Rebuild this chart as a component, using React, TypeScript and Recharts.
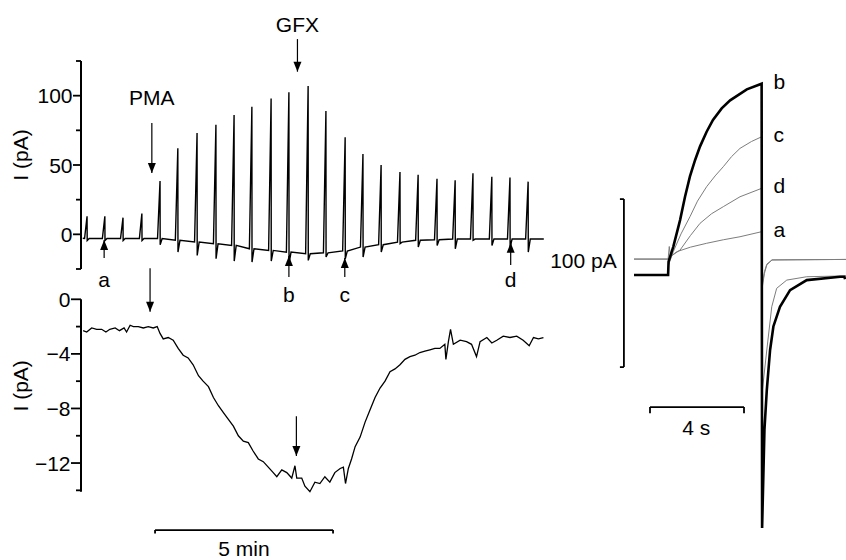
import React from "react";
import { LineChart, Line, XAxis, YAxis, ReferenceLine, ReferenceDot } from "recharts";

const FONT = '"Liberation Sans", Arial, Helvetica, sans-serif';
const W = 846;
const H = 560;

// top-left: responses to each test pulse (t in min, I in pA)
const spikeTimes = [0.17, 0.67, 1.18, 1.71, 2.22, 2.72, 3.26, 3.79, 4.3, 4.8, 5.34, 5.84, 6.38, 6.88, 7.42, 7.92, 8.43, 8.96, 9.47, 10.0, 10.51, 11.01, 11.54, 12.05, 12.56];
const spikePeaks = [13, 13, 12, 15, 38.5, 62, 73, 79, 86, 92, 98, 102.5, 107, 89, 70, 58, 50, 45, 43, 40, 39, 44, 41.5, 41, 38];
const spikeBase = [-3, -3, -3, -3, -3, -4.3, -5.5, -6.8, -8, -10.4, -11.6, -12.8, -14, -13.3, -12, -9.2, -7.5, -5.6, -4.3, -3.9, -3.4, -3.4, -3.4, -3.4, -3.4];
const spikeTrough = [-4.5, -4.5, -4.5, -4.5, -7.5, -12.8, -15.2, -17.6, -19.3, -20, -19.3, -21.2, -18.8, -16.4, -17.6, -16.4, -12.8, -6.7, -9.2, -8, -10.4, -4.3, -8, -9.2, -12.8];

// bottom-left: holding current (t in min, I in pA)
const holdTimes = [0.06, 0.16, 0.3, 0.44, 0.58, 0.7, 0.81, 0.96, 1.08, 1.21, 1.28, 1.38, 1.47, 1.61, 1.75, 1.89, 2.03, 2.14, 2.22, 2.31, 2.45, 2.59, 2.73, 2.87, 3.01, 3.15, 3.3, 3.43, 3.58, 3.72, 3.86, 4.0, 4.14, 4.28, 4.42, 4.56, 4.7, 4.83, 4.98, 5.12, 5.26, 5.4, 5.5, 5.64, 5.78, 5.92, 6.01, 6.06, 6.2, 6.29, 6.43, 6.57, 6.71, 6.85, 6.99, 7.13, 7.28, 7.37, 7.43, 7.51, 7.6, 7.7, 7.84, 7.98, 8.12, 8.26, 8.4, 8.54, 8.68, 8.82, 8.96, 9.1, 9.24, 9.38, 9.52, 9.66, 9.8, 9.94, 10.08, 10.22, 10.25, 10.32, 10.38, 10.46, 10.65, 10.83, 10.97, 11.11, 11.21, 11.4, 11.54, 11.68, 11.86, 12.05, 12.24, 12.42, 12.59, 12.71, 12.85, 12.99];
const holdCurrent = [-2.3, -2.4, -2.1, -2.2, -2.2, -2.4, -2.2, -2.1, -2.3, -2.1, -2.4, -1.9, -2.0, -2.0, -2.1, -2.0, -2.1, -2.0, -2.5, -2.9, -2.8, -3.0, -3.6, -4.1, -4.3, -4.8, -5.6, -6.0, -6.4, -7.2, -7.8, -8.3, -8.8, -9.3, -10.0, -10.4, -10.5, -11.1, -11.7, -11.9, -12.3, -12.7, -13.0, -12.5, -12.7, -13.1, -12.2, -13.1, -13.1, -13.7, -14.1, -13.4, -13.5, -13.0, -13.4, -12.7, -12.4, -12.3, -13.5, -12.4, -11.7, -10.8, -10.1, -9.0, -8.1, -7.2, -6.5, -6.0, -5.3, -5.1, -4.8, -4.4, -4.2, -4.1, -3.9, -3.8, -3.7, -3.6, -3.6, -3.3, -4.4, -3.1, -2.2, -3.3, -3.0, -3.1, -3.3, -4.2, -3.1, -2.8, -3.2, -3.0, -2.7, -2.8, -2.7, -3.0, -3.4, -2.8, -2.9, -2.8];

// right: single sweeps a-d (t in s, I in pA)
const bTimes = [0, 1.45, 1.47, 1.67, 1.96, 2.17, 2.38, 2.6, 2.81, 3.09, 3.36, 3.73, 4.09, 4.8, 5.43, 5.45, 5.55, 5.65, 5.79, 5.93, 6.21, 6.64, 7.35, 8.77, 8.95, 8.98];
const bCurrent = [0, 0, 8, 16.8, 32.7, 46.6, 58.7, 68.5, 76.6, 85.3, 92.3, 99.2, 104, 110.5, 113.9, -150.6, -92, -68.5, -44.6, -30.6, -18.9, -9, -3, -1, -1, -2.5];
const cTimes = [0, 1.45, 1.47, 1.67, 2.0, 2.38, 2.7, 3.09, 3.45, 3.8, 4.15, 4.51, 5.0, 5.43, 5.45, 5.65, 5.86, 6.07, 6.5, 7.35, 9.02];
const cCurrent = [0, 0, 6, 13.9, 24.5, 34.7, 44, 52.6, 59, 64.5, 70.5, 75.4, 79.5, 82.3, -70, -44.6, -18.9, -7.9, -3, -1, -0.5];
const dTimes = [0, 1.45, 1.55, 1.96, 2.4, 2.81, 3.3, 3.8, 4.51, 5.43, 5.45, 5.55, 5.65, 5.87, 9.02];
const dCurrent = [9.5, 9.5, 11, 14.9, 23.5, 30.8, 36.5, 40.7, 46.6, 51.6, -8, 1, 6, 9, 9.3];
const aTimes = [0, 1.45, 1.5, 1.55, 1.82, 2.4, 3.09, 3.8, 4.51, 5.43, 5.45, 5.55, 5.65, 5.87, 9.02];
const aCurrent = [9.5, 9.5, 17, 11, 13.9, 16.6, 18.9, 21, 22.8, 25.8, -6, 2, 6.5, 9, 9.3];

const zip = (ts: number[], is: number[]) => ts.map((t, k) => ({ t, i: is[k] }));

const topTrace: { t: number; i: number }[] = [{ t: 0.05, i: -2.8 }];
spikeTimes.forEach((t, k) => {
  topTrace.push({ t: t - 0.07, i: spikeBase[k] });
  topTrace.push({ t, i: spikePeaks[k] });
  topTrace.push({ t: t + 0.004, i: spikeTrough[k] });
  topTrace.push({ t: t + 0.06, i: spikeBase[k] });
});
topTrace.push({ t: 13.0, i: -3.4 });

const holdTrace = zip(holdTimes, holdCurrent);
const bTrace = zip(bTimes, bCurrent);
const cTrace = zip(cTimes, cCurrent);
const dTrace = zip(dTimes, dCurrent);
const aTrace = zip(aTimes, aCurrent);

const minus = (v: number) => (v < 0 ? "\u2212" + Math.abs(v) : String(v));

const makeTick = (majors: number[], major: number) => (props: any) => {
  const { x, y, payload } = props;
  const isMajor = majors.includes(payload.value);
  const len = isMajor ? major : 5;
  return (
    <g>
      <line x1={x - len} x2={x} y1={y} y2={y} stroke="#000" strokeWidth={1.8} />
      {isMajor && (
        <text x={x - len - 0.5} y={y} dy={7.5} textAnchor="end" fontSize={21} fontFamily={FONT} fill="#000">
          {minus(payload.value)}
        </text>
      )}
    </g>
  );
};

const txt = (label: string, anchor = "middle", rotate = false) => (p: any) => (
  <text
    x={p.cx}
    y={p.cy}
    textAnchor={anchor}
    fontSize={21}
    fontFamily={FONT}
    fill="#000"
    transform={rotate ? `rotate(-90 ${p.cx} ${p.cy})` : undefined}
  >
    {label}
  </text>
);

const headDown = (p: any) => (
  <polygon points={`${p.cx - 4},${p.cy - 10} ${p.cx + 4},${p.cy - 10} ${p.cx},${p.cy}`} fill="#000" />
);
const headUp = (p: any) => (
  <polygon points={`${p.cx - 4},${p.cy + 10} ${p.cx + 4},${p.cy + 10} ${p.cx},${p.cy}`} fill="#000" />
);

// arrow from (x, from) to tip (x, to)
const arrow = (key: string, x: number, from: number, to: number) => {
  const down = to < from;
  return [
    <ReferenceLine
      key={key + "s"}
      segment={[{ x, y: from }, { x, y: to }]}
      stroke="#000"
      strokeWidth={1.2}
      ifOverflow="visible"
    />,
    <ReferenceDot key={key + "h"} x={x} y={to} r={0} shape={down ? headDown : headUp} ifOverflow="visible" />,
  ];
};

const note = (key: string, x: number, y: number, label: string, anchor = "middle", rotate = false) => (
  <ReferenceDot key={key} x={x} y={y} r={0} shape={txt(label, anchor, rotate)} ifOverflow="visible" />
);

// scale bar drawn as consecutive two-point segments
const bar = (key: string, pts: [number, number][], w = 1.8) =>
  pts.slice(1).map((p, k) => (
    <ReferenceLine
      key={key + k}
      segment={[
        { x: pts[k][0], y: pts[k][1] },
        { x: p[0], y: p[1] },
      ]}
      stroke="#000"
      strokeWidth={w}
      ifOverflow="visible"
    />
  ));

const layer: React.CSSProperties = { position: "absolute", left: 0, top: 0 };

export default function App() {
  return (
    <div style={{ position: "absolute", left: 0, top: 0, width: W, height: H, background: "#fff", fontFamily: FONT }}>
      <div style={layer}>
        <LineChart width={W} height={H} margin={{ top: 61, bottom: 291, left: 41, right: 284.4 }}>
          <XAxis type="number" dataKey="t" domain={[0, 13.5]} allowDataOverflow hide />
          <YAxis
            type="number"
            domain={[-25, 125]}
            ticks={[-25, 0, 25, 50, 75, 100, 125]}
            interval={0}
            width={40}
            tickSize={0}
            tickMargin={0}
            tickLine={false}
            axisLine={{ stroke: "#000", strokeWidth: 2 }}
            tick={makeTick([0, 50, 100], 8)}
          />
          <Line data={topTrace} dataKey="i" stroke="#000" strokeWidth={1.4} dot={false} isAnimationActive={false} />
          {note("yl", -1.475, 57.2, "I (pA)", "middle", true)}
          {note("pma", 1.99, 93.2, "PMA")}
          {arrow("pma", 1.99, 80.3, 44.2)}
          {note("gfx", 6.08, 146.1, "GFX")}
          {arrow("gfx", 6.08, 140.8, 117.3)}
          {arrow("a", 0.65, -17.1, -4.1)}
          {arrow("b", 5.84, -30.8, -15.6)}
          {arrow("c", 7.41, -30.8, -17.1)}
          {arrow("d", 12.07, -22.1, -6.1)}
          {note("la", 0.65, -38, "a")}
          {note("lb", 5.84, -48.8, "b")}
          {note("lc", 7.41, -48.8, "c")}
          {note("ld", 12.07, -38, "d")}
        </LineChart>
      </div>

      <div style={layer}>
        <LineChart width={W} height={H} margin={{ top: 299.3, bottom: 68.3, left: 41, right: 284.4 }}>
          <XAxis type="number" dataKey="t" domain={[0, 13.5]} allowDataOverflow hide />
          <YAxis
            type="number"
            domain={[-14, 0]}
            ticks={[-14, -12, -10, -8, -6, -4, -2, 0]}
            interval={0}
            width={40}
            tickSize={0}
            tickMargin={0}
            tickLine={false}
            axisLine={{ stroke: "#000", strokeWidth: 2 }}
            tick={makeTick([0, -4, -8, -12], 10)}
          />
          <Line data={holdTrace} dataKey="i" stroke="#000" strokeWidth={1.3} dot={false} isAnimationActive={false} />
          {note("yl2", -1.475, -6.34, "I (pA)", "middle", true)}
          {arrow("pma2", 1.94, 2.28, -0.92)}
          {arrow("gfx2", 6.05, -8.57, -11.48)}
          {bar("min", [[2.08, -17.17], [2.08, -16.91], [7.08, -16.91], [7.08, -17.17]])}
          {note("min5", 4.58, -18.83, "5 min")}
        </LineChart>
      </div>

      <div style={layer}>
        <LineChart width={W} height={H} margin={{ top: 40, bottom: 0, left: 530, right: 0 }}>
          <XAxis type="number" dataKey="t" domain={[-4.426, 9.02]} allowDataOverflow hide />
          <YAxis type="number" domain={[-169.6, 139.9]} allowDataOverflow hide />
          <Line data={aTrace} dataKey="i" stroke="#7d7d7d" strokeWidth={1} dot={false} isAnimationActive={false} />
          <Line data={dTrace} dataKey="i" stroke="#7d7d7d" strokeWidth={1} dot={false} isAnimationActive={false} />
          <Line data={cTrace} dataKey="i" stroke="#7d7d7d" strokeWidth={1} dot={false} isAnimationActive={false} />
          <Line data={bTrace} dataKey="i" stroke="#000" strokeWidth={2.6} dot={false} isAnimationActive={false} />
          {bar("pa", [[-0.6, 45.2], [-0.43, 45.2], [-0.43, -54.8], [-0.6, -54.8]])}
          {bar("sec", [[0.68, -82.3], [0.68, -78.6], [4.68, -78.6], [4.68, -82.3]])}
          {note("pal", -0.736, 4, "100 pA", "end")}
          {note("secl", 2.65, -95.2, "4 s")}
          {note("rb", 5.93, 111, "b", "start")}
          {note("rc", 5.93, 79.3, "c", "start")}
          {note("rd", 5.93, 48.6, "d", "start")}
          {note("ra", 5.93, 22.8, "a", "start")}
        </LineChart>
      </div>
    </div>
  );
}
